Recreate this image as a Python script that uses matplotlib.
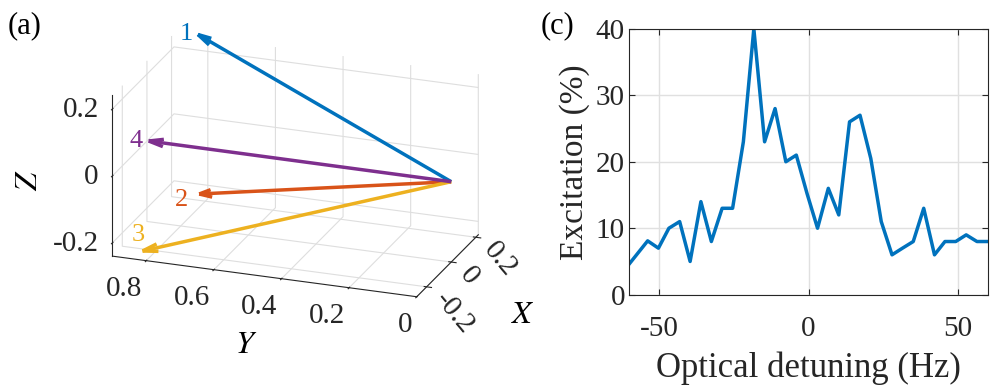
import numpy as np
import matplotlib.pyplot as plt
from matplotlib.transforms import ScaledTranslation

plt.rcParams['font.family'] = ['Liberation Serif', 'DejaVu Serif']
plt.rcParams['mathtext.fontset'] = 'stix'
plt.rcParams['axes.unicode_minus'] = False

# panel (a): arrow vectors, all starting at the origin
beam_labels = ['1', '2', '3', '4']
beam_x = [0.14, 0.15, -0.31, -0.26]
beam_y = [0.80, 0.80, 0.80, 0.80]
beam_z = [0.28, -0.20, -0.20, 0.11]
beam_colors = ['#0072BD', '#D95319', '#EDB120', '#7E2F8E']

# panel (c): excitation spectrum
detuning = [-60.0, -53.8, -50.2, -46.7, -43.1, -39.6, -36.0, -32.5, -28.9, -25.4,
            -21.8, -18.3, -14.7, -11.2, -7.6, -4.1, -0.5, 3.0, 6.6, 10.1,
            13.7, 17.2, 20.8, 24.3, 27.9, 31.4, 35.0, 38.5, 42.1, 45.6,
            49.2, 52.7, 56.3, 59.8, 61.0]
excitation = [4.6, 8.1, 7.0, 10.0, 11.0, 5.0, 14.0, 8.0, 13.0, 13.0,
              23.0, 40.0, 23.0, 28.0, 20.0, 21.0, 15.2, 10.0, 16.0, 12.0,
              26.0, 27.0, 20.5, 11.0, 6.0, 7.0, 8.0, 13.0, 6.0, 8.0,
              8.0, 9.0, 8.0, 8.0, 8.0]

fig = plt.figure(figsize=(9.97, 3.89), dpi=100)

# ---------- (a) 3D arrows ----------
ax = fig.add_axes([0.011, 0.062, 0.56, 1.0], projection='3d')
ax.set_proj_type('ortho')
ax.view_init(elev=21.5, azim=-160)
ax.set_xlim(-0.28, 0.22)
ax.set_ylim(0, 0.9)
ax.set_zlim(-0.24, 0.24)
ax.set_box_aspect((0.5, 0.9, 0.48), zoom=1.02)

# label offsets from the arrow tip, in points
label_dx = [-8.6, -13.0, -2.9, -9.4]
label_dy = [0.7, -4.3, 11.5, 0.0]
for i in range(len(beam_labels)):
    u, v, w, c = beam_x[i], beam_y[i], beam_z[i], beam_colors[i]
    ax.quiver(0, 0, 0, u, v, w, color=c, linewidth=2.5,
              arrow_length_ratio=0.05)
    t = ax.text(u, v, w, beam_labels[i], color=c, fontsize=19,
                ha='center', va='center')
    t.set_transform(ax.transData + ScaledTranslation(label_dx[i] / 72,
                                                     label_dy[i] / 72,
                                                     fig.dpi_scale_trans))

ax.set_xticks([-0.2, 0, 0.2])
ax.set_xticklabels(['-0.2', '0', '0.2'])
ax.set_yticks([0, 0.2, 0.4, 0.6, 0.8])
ax.set_yticklabels(['0', '0.2', '0.4', '0.6', '0.8'])
ax.set_zticks([-0.2, 0, 0.2])
ax.set_zticklabels(['-0.2', '0', '0.2'])
ax.tick_params(labelsize=21, colors='#262626', pad=2)
ax.tick_params(axis='x', labelrotation=-50)
ax.xaxis.set_tick_params(pad=-2)
ax.zaxis.set_tick_params(pad=-2.5)
for lbl in ax.get_xticklabels():
    lbl.set_rotation_mode('anchor')
    lbl.set_ha('left')
    lbl.set_va('center')
for lbl in ax.get_yticklabels():
    lbl.set_ha('right')
    lbl.set_va('top')
for lbl in ax.get_zticklabels():
    lbl.set_ha('right')
    lbl.set_va('center')
ax.set_xlabel('$X$', fontsize=23, labelpad=15)
ax.set_ylabel('$Y$', fontsize=23, labelpad=24)
ax.zaxis.set_rotate_label(False)
ax.set_zlabel('$Z$', fontsize=23, rotation=90, labelpad=12)

for axis in (ax.xaxis, ax.yaxis, ax.zaxis):
    axis.set_pane_color((1, 1, 1, 0))
    axis.pane.set_edgecolor('#dcdcdc')
    axis.line.set_color('#262626')
    axis._axinfo['grid']['color'] = (0.87, 0.87, 0.87, 1)
    axis._axinfo['grid']['linewidth'] = 0.8

fig.text(0.008, 0.915, '(a)', fontsize=22)

# ---------- (c) spectrum ----------
ax2 = fig.add_axes([0.631, 0.2424, 0.36, 0.6836])
ax2.plot(detuning, excitation, color='#0072BD', linewidth=2.5)
ax2.set_xlim(-60, 60)
ax2.set_ylim(0, 40)
ax2.set_xticks([-50, 0, 50])
ax2.set_yticks([0, 10, 20, 30, 40])
ax2.grid(True, color='#e0e0e0', linewidth=1)
ax2.set_axisbelow(True)
ax2.tick_params(direction='in', top=True, right=True, labelsize=21,
                colors='#262626', length=4)
ax2.tick_params(axis='x', pad=15)
ax2.tick_params(axis='y', pad=3)
for s in ax2.spines.values():
    s.set_color('#262626')
ax2.set_xlabel('Optical detuning (Hz)', fontsize=25, color='#262626', labelpad=7)
ax2.set_ylabel('Excitation (%)', fontsize=24, color='#262626', labelpad=4)
fig.text(0.542, 0.915, '(c)', fontsize=22)

fig.savefig('out.png', dpi=100)
